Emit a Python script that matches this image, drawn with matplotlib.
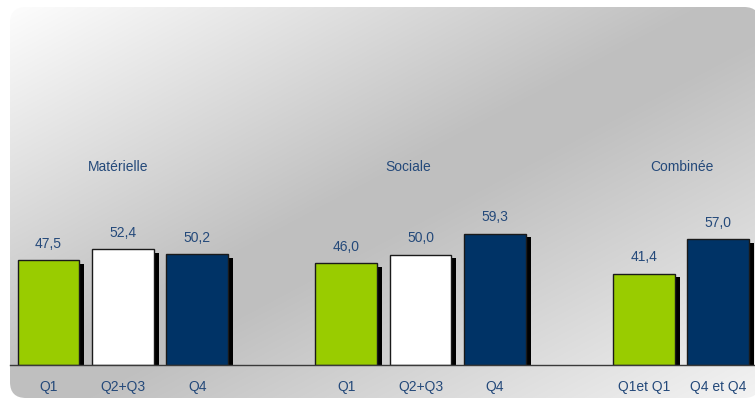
import numpy as np
import matplotlib
matplotlib.use("Agg")
import matplotlib.pyplot as plt
from matplotlib.patches import FancyBboxPatch

# ---- data ----
groups = ["Matérielle", "Sociale", "Combinée"]
categories = ["Q1", "Q2+Q3", "Q4", "Q1", "Q2+Q3", "Q4", "Q1et Q1", "Q4 et Q4"]
values = [47.5, 52.4, 50.2, 46.0, 50.0, 59.3, 41.4, 57.0]
value_labels = ["47,5", "52,4", "50,2", "46,0", "50,0", "59,3", "41,4", "57,0"]
bar_kind = ["q1", "mid", "q4", "q1", "mid", "q4", "q1", "q4"]

# ---- style / layout ----
colors = {"q1": "#99CC00", "mid": "#FFFFFF", "q4": "#003366"}
positions = [0, 1, 2, 4, 5, 6, 8, 9]
title_x = [0.93, 4.83, 8.52]
text_color = "#24497A"
W, H = 755, 400
px_per_unit = 2.21

plt.rcParams['font.family'] = ['Liberation Sans', 'DejaVu Sans']

fig = plt.figure(figsize=(W / 100, H / 100), dpi=100)
fig.patch.set_facecolor("white")

# background gradient panel
bg = fig.add_axes([0, 0, 1, 1])
bg.set_xlim(0, W)
bg.set_ylim(H, 0)
bg.axis("off")
yy, xx = np.mgrid[0:H, 0:W]
t = xx / W + yy / H
white, gray, light = 1.0, 0.75, 0.955
g = np.where(t < 0.95, white + (gray - white) * np.clip(t / 0.95, 0, 1),
             np.where(t < 1.1, gray, gray + (light - gray) * np.clip((t - 1.1) / 0.9, 0, 1)))
img = np.dstack([g, g, g])
im = bg.imshow(img, extent=(0, W, H, 0), interpolation="bilinear", aspect="auto")
panel = FancyBboxPatch((10, 7), 760 - 10, 398 - 7,
                       boxstyle="round,pad=0,rounding_size=16",
                       transform=bg.transData, facecolor="none", edgecolor="none")
bg.add_patch(panel)
im.set_clip_path(panel)

# main axes
ax = fig.add_axes([0, 35 / H, 1, 365 / H])
ax.patch.set_alpha(0)
x_left = -48.5 / 74.4
x_right = (W - 48.5) / 74.4
ax.set_xlim(x_left, x_right)
ax.set_ylim(0, 365 / px_per_unit)
ax.axis("off")

bw = 0.83
sx = 5 / 74.4
sy = 3.5 / px_per_unit
pos = np.array(positions, dtype=float)
vals = np.array(values)
# shadows
ax.bar(pos + sx, vals - sy, width=bw, color="black", zorder=2)
# bars
ax.bar(pos, vals, width=bw, color=[colors[k] for k in bar_kind],
       edgecolor="#1a1a1a", linewidth=1.0, zorder=3)

ax.axhline(0, xmin=10 / W, xmax=1, color="#3a3a3a", lw=1.0, zorder=4, clip_on=False)

for x, v, lab in zip(positions, values, value_labels):
    ax.text(x, v + 16.5 / px_per_unit, lab, ha="center", va="center",
            fontsize=10, color=text_color, zorder=5)
for x, lab in zip(positions, categories):
    ax.text(x, -22 / px_per_unit, lab, ha="center", va="center",
            fontsize=10, color=text_color, clip_on=False, zorder=5)
for x, lab in zip(title_x, groups):
    ax.text(x, (365 - 167) / px_per_unit, lab, ha="center", va="center",
            fontsize=10, color=text_color, zorder=5)

fig.savefig("out.png", dpi=100)
